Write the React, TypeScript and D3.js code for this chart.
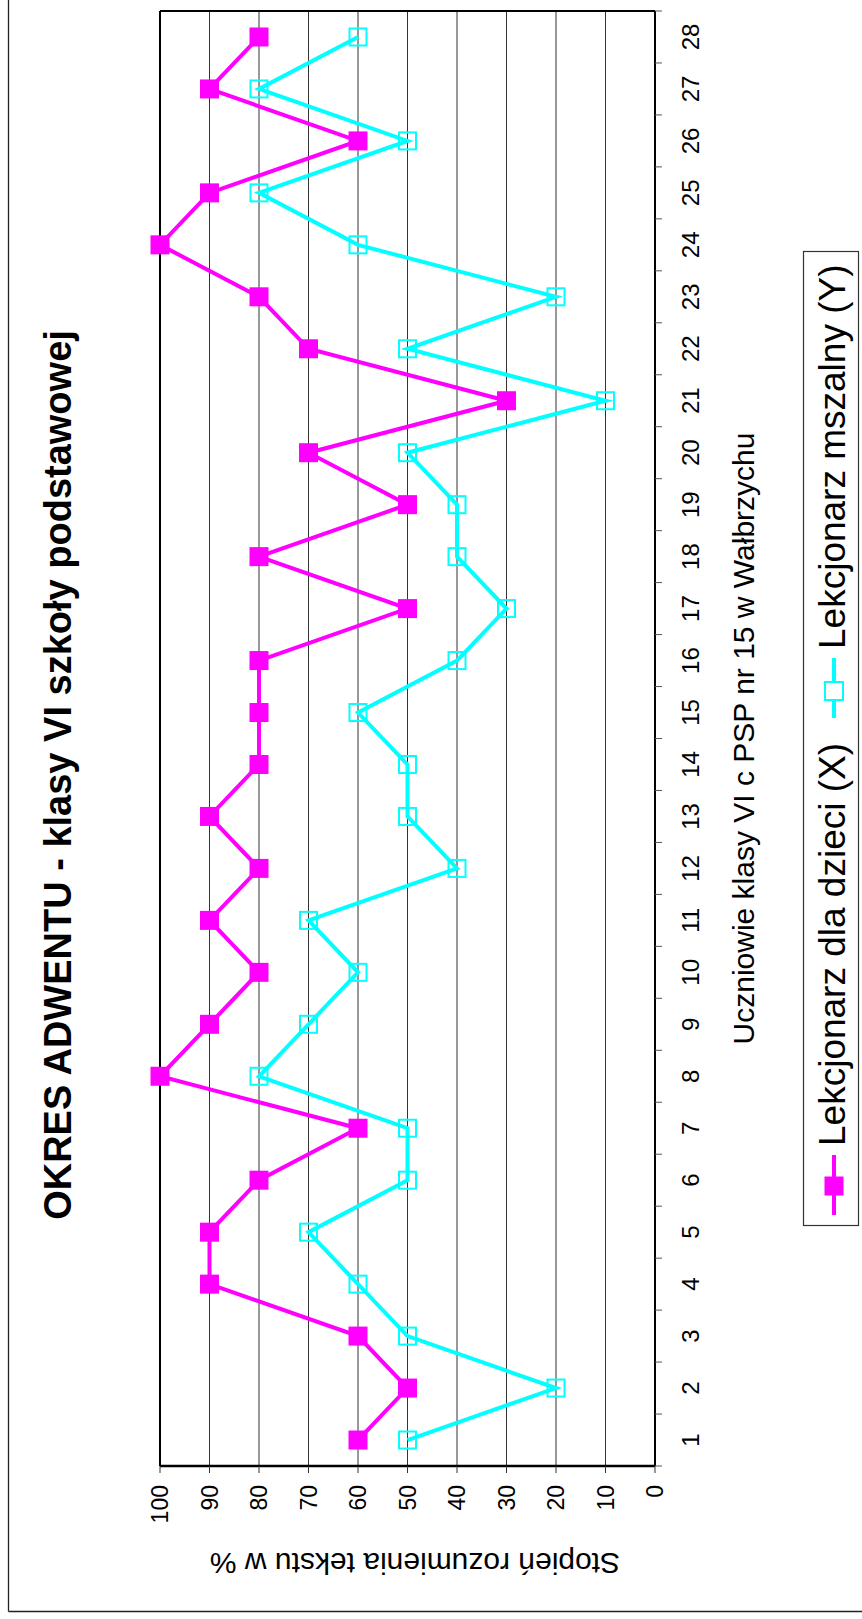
import React from "react";
import * as d3 from "d3";

const categories = Array.from({ length: 28 }, (_, i) => String(i + 1));
const seriesX = [60, 50, 60, 90, 90, 80, 60, 100, 90, 80, 90, 80, 90, 80, 80, 80, 50, 80, 50, 70, 30, 70, 80, 100, 90, 60, 90, 80];
const seriesY = [50, 20, 50, 60, 70, 50, 50, 80, 70, 60, 70, 40, 50, 50, 60, 40, 30, 40, 40, 50, 10, 50, 20, 60, 80, 50, 80, 60];
const valueTicks = [0, 10, 20, 30, 40, 50, 60, 70, 80, 90, 100];
const title = "OKRES ADWENTU - klasy VI szkoły podstawowej";
const xTitle = "Uczniowie klasy VI c PSP nr 15 w Wałbrzychu";
const yTitle = "Stopień rozumienia tekstu w %";
const legendX = "Lekcjonarz dla dzieci (X)";
const legendY = "Lekcjonarz mszalny (Y)";

const MAGENTA = "#FF00FF";
const CYAN = "#00FFFF";
const FONT = "'Liberation Sans', Arial, sans-serif";

export default function App() {
  const W = 862, H = 1619;
  const left = 160, right = 655, top = 11, bottom = 1466;
  const v = d3.scaleLinear().domain([0, 100]).range([right, left]);
  const c = d3.scaleBand<string>().domain(categories).range([bottom, top]);
  const bw = c.bandwidth();
  const cy = (k: string) => (c(k) as number) + bw / 2;

  const line = d3
    .line<number>()
    .x((d) => v(d))
    .y((_, i) => cy(categories[i]));

  const catTicks = [bottom, ...categories.map((k) => c(k) as number)];

  const sq = 19;

  return (
    <svg width={W} height={H} style={{ position: "absolute", left: 0, top: 0, background: "#fff" }} fontFamily={FONT}>
      <rect x={0} y={0} width={W} height={H} fill="#fff" />
      {/* outer frame */}
      <line x1={8.5} y1={0} x2={8.5} y2={1611.5} stroke="#222" strokeWidth={1.3} />
      <line x1={8.5} y1={1611.5} x2={W} y2={1611.5} stroke="#222" strokeWidth={1.3} />

      {/* gridlines */}
      {valueTicks.filter((t) => t > 0 && t < 100).map((t) => (
        <line key={"g" + t} x1={v(t)} y1={top} x2={v(t)} y2={bottom} stroke="#333" strokeWidth={1} />
      ))}
      {/* plot borders */}
      <line x1={left} y1={top} x2={right} y2={top} stroke="#000" strokeWidth={2} />
      <line x1={left} y1={top} x2={left} y2={bottom} stroke="#000" strokeWidth={2} />
      <line x1={right} y1={top} x2={right} y2={bottom} stroke="#000" strokeWidth={2} />
      <line x1={left} y1={bottom} x2={right} y2={bottom} stroke="#000" strokeWidth={2.5} />

      {/* value ticks */}
      {valueTicks.map((t) => (
        <line key={"vt" + t} x1={v(t)} y1={bottom} x2={v(t)} y2={bottom + 7} stroke="#333" strokeWidth={1} />
      ))}
      {/* category ticks */}
      {catTicks.map((y, i) => (
        <line key={"ct" + i} x1={right} y1={y} x2={right + 7} y2={y} stroke="#555" strokeWidth={1} />
      ))}

      {/* value labels */}
      {valueTicks.map((t) => (
        <text key={"vl" + t} transform={`translate(${v(t)},1485) rotate(-90)`} textAnchor="end" dy="0.35em" fontSize={23} fill="#000">
          {t}
        </text>
      ))}
      {/* category labels */}
      {categories.map((k) => (
        <text key={"cl" + k} transform={`translate(690.5,${cy(k)}) rotate(-90)`} textAnchor="middle" dy="0.35em" fontSize={24} fill="#000">
          {k}
        </text>
      ))}

      {/* series lines */}
      <path d={line(seriesY) as string} fill="none" stroke={CYAN} strokeWidth={4} strokeLinejoin="miter" />
      <path d={line(seriesX) as string} fill="none" stroke={MAGENTA} strokeWidth={4} strokeLinejoin="miter" />

      {seriesY.map((d, i) => (
        <rect key={"my" + i} x={v(d) - 8.5} y={cy(categories[i]) - 8.5} width={17} height={17} fill="none" stroke={CYAN} strokeWidth={2} />
      ))}
      {seriesX.map((d, i) => (
        <rect key={"mx" + i} x={v(d) - sq / 2} y={cy(categories[i]) - sq / 2} width={sq} height={sq} fill={MAGENTA} />
      ))}

      {/* titles */}
      <text transform={`translate(71,775) rotate(-90)`} textAnchor="middle" fontSize={38} fontWeight="bold" fill="#000">
        {title}
      </text>
      <text transform={`translate(754,${(top + bottom) / 2}) rotate(-90)`} textAnchor="middle" fontSize={30} fill="#000">
        {xTitle}
      </text>
      <text transform={`translate(415,1553) rotate(180)`} textAnchor="middle" fontSize={30} fill="#000">
        {yTitle}
      </text>

      {/* legend */}
      <rect x={803.5} y={251.5} width={55} height={974} fill="#fff" stroke="#333" strokeWidth={1.2} />
      <line x1={834} y1={1155} x2={834} y2={1215} stroke={MAGENTA} strokeWidth={4} />
      <rect x={834 - 9.5} y={1186 - 9.5} width={19} height={19} fill={MAGENTA} />
      <text transform={`translate(845,1146) rotate(-90)`} textAnchor="start" fontSize={37} fill="#000">
        {legendX}
      </text>
      <line x1={834} y1={658} x2={834} y2={718} stroke={CYAN} strokeWidth={4} />
      <rect x={834 - 9} y={691 - 9} width={18} height={18} fill="#fff" stroke={CYAN} strokeWidth={2} />
      <text transform={`translate(845,649) rotate(-90)`} textAnchor="start" fontSize={37} fill="#000">
        {legendY}
      </text>
    </svg>
  );
}
